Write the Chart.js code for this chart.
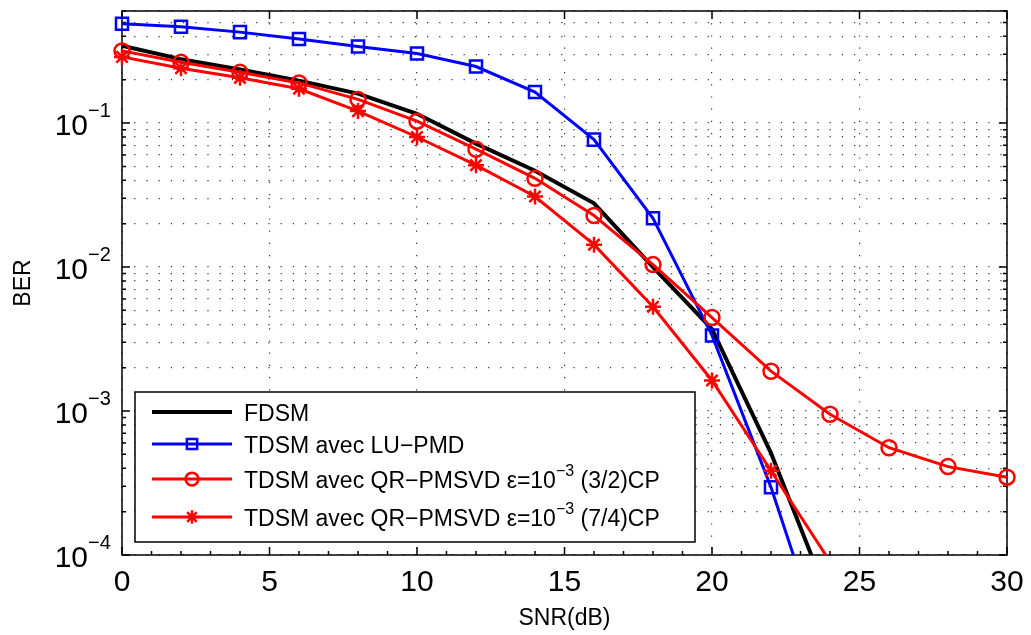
<!DOCTYPE html>
<html>
<head>
<meta charset="utf-8">
<script src="https://cdn.jsdelivr.net/npm/chart.js@4.4.1/dist/chart.umd.min.js"></script>
<style>
  html, body { margin: 0; padding: 0; background: #fff; }
  #wrap { width: 1031px; height: 635px; }
</style>
</head>
<body>
<div id="wrap"><canvas id="ber-chart" width="1031" height="635"></canvas></div>
<script>
// SNR (dB) sample points
const SNR_DB = [0, 2, 4, 6, 8, 10, 12, 14, 16, 18, 20, 22, 24, 26, 28, 30];

// BER curves
const BER_FDSM   = [0.344, 0.278, 0.236, 0.197, 0.160, 0.116, 0.072, 0.0466, 0.0277, 0.0100, 0.0037, 5.1e-4, 4.7e-5];
const BER_LU_PMD = [0.49, 0.466, 0.428, 0.384, 0.34, 0.304, 0.247, 0.164, 0.0767, 0.0218, 0.00335, 2.95e-4, 1.7e-5];
const BER_QR_32  = [0.317, 0.264, 0.225, 0.19, 0.146, 0.103, 0.0658, 0.0413, 0.0228, 0.0104, 0.00446, 0.00189, 9.5e-4, 5.56e-4, 4.11e-4, 3.47e-4];
const BER_QR_74  = [0.288, 0.240, 0.206, 0.173, 0.121, 0.080, 0.051, 0.0309, 0.0143, 0.0053, 0.00163, 3.85e-4, 9.0e-5];

const SERIES_LABELS = [
  "FDSM",
  "TDSM avec LU\u2212PMD",
  "TDSM avec QR\u2212PMSVD \u03b5=10^{\u22123} (3/2)CP",
  "TDSM avec QR\u2212PMSVD \u03b5=10^{\u22123} (7/4)CP",
];

const X_TICKS = [0, 5, 10, 15, 20, 25, 30];
const Y_DECADES = [-4, -3, -2, -1];
const Y_MIN = 1e-4;
const Y_MAX = 0.6;

const FONT = "'Liberation Sans', Arial, Helvetica, sans-serif";

// log tick positions: 1..9 x 10^e, up to Y_MAX
const Y_TICKS = [];
for (const e of Y_DECADES) {
  for (let m = 1; m <= 9; m++) {
    const v = parseFloat((m * Math.pow(10, e)).toPrecision(3));
    if (v <= Y_MAX + 1e-12) Y_TICKS.push(v);
  }
}

const pts = (ys) => ys.map((y, i) => ({ x: SNR_DB[i], y }));
const hideBelow = (r) => (ctx) => (ctx.raw && ctx.raw.y < Y_MIN ? 0 : r);

const MARKERS = [
  { color: "#000000", width: 4, style: false, r: 0 },
  { color: "#0000ff", width: 3, style: "rect", r: 8.5 },
  { color: "#ff0000", width: 3, style: "circle", r: 7.5 },
  { color: "#ff0000", width: 3, style: "star", r: 8 },
];

const datasets = [BER_FDSM, BER_LU_PMD, BER_QR_32, BER_QR_74].map((ys, i) => ({
  label: SERIES_LABELS[i],
  data: pts(ys),
  borderColor: MARKERS[i].color,
  backgroundColor: MARKERS[i].color,
  borderWidth: MARKERS[i].width,
  pointStyle: MARKERS[i].style || "circle",
  pointRadius: hideBelow(MARKERS[i].r),
  pointBorderWidth: 2.5,
  pointBorderColor: MARKERS[i].color,
  pointBackgroundColor: "rgba(0,0,0,0)",
  tension: 0,
  order: 4 - i,
  clip: { left: 20, top: 20, right: 20, bottom: 0 },
}));

function drawMarker(ctx, style, x, y, r, color) {
  ctx.save();
  ctx.strokeStyle = color;
  ctx.lineWidth = 2.5;
  ctx.beginPath();
  if (style === "rect") {
    const s = r * Math.SQRT1_2;
    ctx.rect(x - s, y - s, 2 * s, 2 * s);
  } else if (style === "circle") {
    ctx.arc(x, y, r, 0, Math.PI * 2);
  } else if (style === "star") {
    for (let k = 0; k < 4; k++) {
      const a = k * Math.PI / 4;
      ctx.moveTo(x - r * Math.cos(a), y - r * Math.sin(a));
      ctx.lineTo(x + r * Math.cos(a), y + r * Math.sin(a));
    }
  }
  ctx.stroke();
  ctx.restore();
}

// text with a ^{...} superscript part
function drawRich(ctx, text, x, y, size, supSize, supRise) {
  const parts = text.split(/\^\{(.+?)\}/);
  let cx = x;
  parts.forEach((p, k) => {
    const sup = k % 2 === 1;
    ctx.font = (sup ? supSize : size) + "px " + FONT;
    ctx.fillText(p, cx, sup ? y - supRise : y);
    cx += ctx.measureText(p).width;
  });
}

const matlabAxes = {
  id: "matlabAxes",
  beforeDatasetsDraw(chart) {
    const { ctx, chartArea: a, scales } = chart;
    const xs = scales.x, ys = scales.y;
    ctx.save();
    ctx.strokeStyle = "#000";
    ctx.lineWidth = 1.5;
    ctx.beginPath();
    ys.ticks.forEach((t) => {
      const py = ys.getPixelForValue(t.value);
      const major = Math.abs(Math.log10(t.value) - Math.round(Math.log10(t.value))) < 1e-9;
      const len = major ? 8 : 4;
      ctx.moveTo(a.left, py); ctx.lineTo(a.left + len, py);
      ctx.moveTo(a.right, py); ctx.lineTo(a.right - len, py);
    });
    for (let v = 0; v <= 30; v++) {
      const px = xs.getPixelForValue(v);
      const major = X_TICKS.includes(v);
      ctx.moveTo(px, a.bottom); ctx.lineTo(px, a.bottom - (major ? 8 : 4));
      if (major) { ctx.moveTo(px, a.top); ctx.lineTo(px, a.top + 8); }
    }
    ctx.stroke();
    ctx.strokeRect(a.left, a.top, a.right - a.left, a.bottom - a.top);
    ctx.restore();
  },
  afterDraw(chart) {
    const { ctx, scales } = chart;
    const ys = scales.y;
    ctx.save();
    ctx.fillStyle = "#000";
    ctx.textBaseline = "alphabetic";
    // y tick labels 10^{-n}
    Y_DECADES.forEach((e) => {
      const py = ys.getPixelForValue(Math.pow(10, e));
      ctx.font = "30px " + FONT;
      ctx.textAlign = "right";
      ctx.fillText("10", 88, py + 11.5);
      ctx.font = "20px " + FONT;
      ctx.textAlign = "left";
      ctx.fillText("\u2212" + Math.abs(e), 88, py - 6);
    });

    // legend box
    const box = { l: 135, t: 392, r: 695, b: 542 };
    ctx.fillStyle = "#fff";
    ctx.fillRect(box.l, box.t, box.r - box.l, box.b - box.t);
    ctx.strokeStyle = "#000";
    ctx.lineWidth = 1.5;
    ctx.strokeRect(box.l, box.t, box.r - box.l, box.b - box.t);
    const rows = [412, 444, 479, 517];
    chart.data.datasets.forEach((ds, i) => {
      const y = rows[i];
      ctx.strokeStyle = MARKERS[i].color;
      ctx.lineWidth = MARKERS[i].width;
      ctx.beginPath();
      ctx.moveTo(152, y); ctx.lineTo(232, y);
      ctx.stroke();
      if (MARKERS[i].style) drawMarker(ctx, MARKERS[i].style, 192, y, MARKERS[i].r * 0.85, MARKERS[i].color);
      ctx.fillStyle = "#000";
      ctx.textAlign = "left";
      drawRich(ctx, ds.label, 244, y + 8.5, 23, 16, 12);
    });
    ctx.restore();
  },
};

new Chart(document.getElementById("ber-chart"), {
  type: "line",
  data: { datasets },
  options: {
    responsive: false,
    animation: false,
    devicePixelRatio: 1,
    events: [],
    layout: { padding: { top: 7, right: 24, left: 0, bottom: 0 } },
    scales: {
      x: {
        type: "linear",
        min: 0,
        max: 30,
        afterFit: (s) => { s.height = 80; s.paddingLeft = 0; s.paddingRight = 0; },
        afterBuildTicks: (s) => { s.ticks = X_TICKS.map((v) => ({ value: v })); },
        ticks: { color: "#000", font: { size: 30, family: FONT }, padding: 10, maxRotation: 0 },
        grid: { color: "rgba(0,0,0,0.8)", lineWidth: 1.2, drawTicks: false, borderDash: [1.2, 11] },
        border: { display: false, dash: [1.2, 11] },
        title: { display: true, text: "SNR(dB)", color: "#000", font: { size: 23, family: FONT }, padding: { top: 0, bottom: 3 } },
      },
      y: {
        type: "logarithmic",
        min: Y_MIN,
        max: Y_MAX,
        afterFit: (s) => { s.width = 122; },
        afterBuildTicks: (s) => { s.ticks = Y_TICKS.map((v) => ({ value: v })); },
        ticks: { display: false },
        grid: { color: "rgba(0,0,0,0.8)", lineWidth: 1.2, drawTicks: false, borderDash: [1.2, 11] },
        border: { display: false, dash: [1.2, 11] },
        title: { display: true, text: "BER", color: "#000", font: { size: 23, family: FONT }, padding: { top: 10, bottom: 0 } },
      },
    },
    plugins: { legend: { display: false }, tooltip: { enabled: false } },
  },
  plugins: [matlabAxes],
});
</script>
</body>
</html>
